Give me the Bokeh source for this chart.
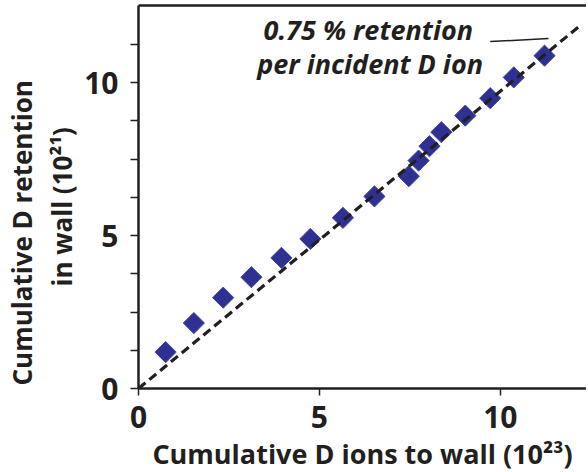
import math
from bokeh.plotting import figure
from bokeh.models import Range1d, FixedTicker, Label, LinearAxis, Title
from bokeh.embed import file_html
from bokeh.resources import INLINE

# ---- data ----
ions_to_wall = [0.75, 1.53, 2.34, 3.12, 3.95, 4.75, 5.65, 6.52, 7.47, 7.74,
                8.04, 8.37, 9.03, 9.72, 10.37, 11.22]          # 10^23
d_retention = [1.19, 2.14, 2.97, 3.64, 4.27, 4.89, 5.58, 6.28, 6.94, 7.45,
               7.92, 8.38, 8.92, 9.49, 10.17, 10.88]           # 10^21
fit_x = [0.0, 12.2]
fit_y = [0.0, 11.86]
x_ticks = [0, 5, 10]
y_major_ticks = [0, 5, 10]
y_minor_ticks = [1.25, 2.5, 3.75, 6.25, 7.5, 8.75, 11.25]
annotation_lines = ["0.75 % retention", "per incident D ion"]
leader_x = [9.72, 11.33]
leader_y = [11.34, 11.44]
x_title = "Cumulative D ions to wall (10\u00b2\u00b3)"
y_title_lines = ["Cumulative D retention", "in wall (10\u00b2\u00b9)"]

INK = "#231f20"
FONT = "Open Sans"

p = figure(frame_width=448, frame_height=383,
           min_border_left=138, min_border_right=0,
           min_border_top=5, min_border_bottom=82,
           x_range=Range1d(0, 12.38), y_range=Range1d(0, 12.52),
           output_backend="svg", toolbar_location=None,
           background_fill_color="white", border_fill_color="white")
p.outline_line_color = None
p.xgrid.visible = False
p.ygrid.visible = False

# bottom axis
xa = p.xaxis[0]
xa.ticker = FixedTicker(ticks=x_ticks, minor_ticks=[])
xa.axis_line_color = INK
xa.axis_line_width = 2.5
xa.major_tick_line_color = INK
xa.major_tick_line_width = 1.5
xa.major_tick_out = 7
xa.major_tick_in = 0
xa.minor_tick_line_color = None
xa.major_label_text_font = FONT
xa.major_label_text_font_style = "bold"
xa.major_label_text_font_size = "30px"
xa.major_label_text_color = INK
xa.major_label_standoff = 10
xa.axis_label = x_title
xa.axis_label_text_font = FONT
xa.axis_label_text_font_style = "bold"
xa.axis_label_text_font_size = "27px"
xa.axis_label_text_color = INK
xa.axis_label_standoff = 4

# left axis
ya = p.yaxis[0]
ya.ticker = FixedTicker(ticks=y_major_ticks, minor_ticks=y_minor_ticks)
ya.axis_line_color = INK
ya.axis_line_width = 2.5
ya.major_tick_line_color = INK
ya.major_tick_line_width = 1.5
ya.major_tick_out = 8
ya.major_tick_in = 0
ya.minor_tick_line_color = INK
ya.minor_tick_line_width = 1.5
ya.minor_tick_out = 8
ya.minor_tick_in = 0
ya.major_label_text_font = FONT
ya.major_label_text_font_style = "bold"
ya.major_label_text_font_size = "30px"
ya.major_label_text_color = INK
ya.major_label_standoff = 12

# y-axis title as two stacked side titles (line 2 nearer the axis)
for txt, off, so in ((y_title_lines[1], 102, 4), (y_title_lines[0], 3, 0)):
    p.add_layout(Title(text=txt, align="left", offset=off, standoff=so,
                       text_font=FONT, text_font_style="bold",
                       text_font_size="26px", text_color=INK,
                       vertical_align="bottom"), "left")

# top spine
top = LinearAxis(ticker=FixedTicker(ticks=[], minor_ticks=[]),
                 axis_line_color=INK, axis_line_width=2.5,
                 major_tick_line_color=None, minor_tick_line_color=None,
                 major_label_text_font_size="0px")
p.add_layout(top, "above")

# data
p.scatter(ions_to_wall, d_retention, marker="square", size=15, angle=math.pi / 4,
          fill_color="#2e3192", line_color="#4549a6", line_width=1)
p.line(fit_x, fit_y, line_dash="9 5", line_width=3.2, line_color=INK)
p.line(leader_x, leader_y, line_width=1.5, line_color=INK)

# annotation
p.add_layout(Label(x=6.35, y=11.74, text=annotation_lines[0], text_align="center",
                   text_baseline="alphabetic", text_font=FONT,
                   text_font_style="bold italic", text_font_size="27px", text_color=INK))
p.add_layout(Label(x=6.40, y=10.63, text=annotation_lines[1], text_align="center",
                   text_baseline="alphabetic", text_font=FONT,
                   text_font_style="bold italic", text_font_size="27px", text_color=INK))

open("out.html", "w").write(file_html(p, INLINE))
